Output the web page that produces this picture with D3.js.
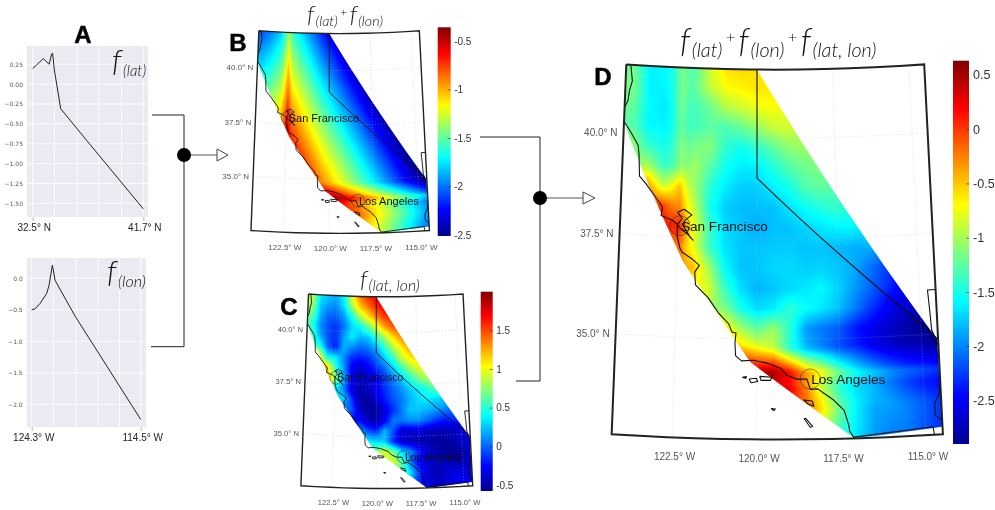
<!DOCTYPE html>
<html><head><meta charset="utf-8">
<script src="https://cdn.jsdelivr.net/npm/d3@7"></script>
<style>
html,body{margin:0;padding:0;background:#fff;width:995px;height:510px;overflow:hidden}
canvas,svg{position:absolute;left:0;top:0}
svg{filter:blur(.3px)}
</style></head><body>
<canvas id="heat" width="995" height="510"></canvas>
<svg id="chart" width="995" height="510"></svg>
<script>
// ---------- data ----------
const fLatKnots = [[32.5,.197],[32.83,.243],[33.39,.323],[33.86,.25],[34.08,.38],[34.16,.39],[34.3,.18],[34.83,-.31],[37.0,-.71],[41.7,-1.57]];
const fLonKnots = [[-124.3,-.497],[-124.03,-.49],[-123.55,-.4],[-122.95,-.24],[-122.74,-.11],[-122.44,.21],[-122.2,-.03],[-122.05,-.08],[-120.4,-.6],[-114.5,-2.24]];
const fLatTicks = [.25,0,-.25,-.5,-.75,-1,-1.25,-1.5];
const fLonTicks = [0,-.5,-1,-1.5,-2];
const latGrid = [32.5,34.3,36.2,38,39.9,41.7];
const lonGrid = [-124.3,-122.35,-120.3,-118.35,-116.4,-114.5];
const gridLons = d3.range(-124.5,-114.4,.5);
const gridLats = [41.75,41.25,40.75,40.25,39.75,39.25,38.75,38.25,37.75,37.25,36.75,36.25,35.75,35.25,34.75,34.25,33.75,33.25,32.75,32.25];
const fLatLon = [
[.9,.85,.35,.25,.2,.4,1.0,1.4,1.6,1.7,1.7,1.7,1.7,1.7,1.7,1.7,1.7,1.7,1.7,1.7,1.7],
[.85,.8,.25,.15,.1,.35,.85,1.2,1.4,1.6,1.7,1.75,1.75,1.75,1.75,1.75,1.75,1.75,1.75,1.75,1.75],
[.75,.65,.2,0,0,.15,.45,.85,1.1,1.35,1.55,1.6,1.6,1.6,1.6,1.6,1.6,1.6,1.6,1.6,1.6],
[.55,.5,.1,-.05,-.15,.05,.3,.4,.65,.95,1.25,1.45,1.5,1.5,1.5,1.5,1.5,1.5,1.5,1.5,1.5],
[.6,.6,.2,-.05,-.15,.15,.35,.2,.25,.5,.8,1.1,1.3,1.4,1.4,1.4,1.4,1.4,1.4,1.4,1.4],
[.5,.5,.5,0,-.2,.2,.1,0,.05,.2,.5,.8,1.05,1.25,1.3,1.3,1.3,1.3,1.3,1.3,1.3],
[1.1,1.1,1.1,.4,.35,.1,-.15,-.2,-.15,0,.25,.5,.85,1.05,1.15,1.15,1.15,1.15,1.15,1.15,1.15],
[1.2,1.2,1.2,1.2,.5,.15,-.3,-.4,-.3,-.15,0,.25,.5,.75,.95,1,1,1,1,1,1],
[1.4,1.4,1.4,1.3,.8,.2,-.25,-.45,-.35,-.3,-.1,.05,.25,.45,.65,.8,.85,.85,.85,.85,.85],
[.8,.8,.8,.8,.4,.1,-.35,-.5,-.45,-.3,-.15,0,.1,.25,.35,.45,.6,.6,.6,.6,.6],
[.3,.3,.3,.3,.3,.3,-.1,-.5,-.55,-.4,-.2,-.05,.05,.2,.3,.35,.3,.25,.25,.25,.25],
[0,0,0,0,0,0,0,-.4,-.55,-.55,-.35,-.15,.05,.25,.25,.2,.15,.1,0,0,0],
[-.25,-.25,-.25,-.25,-.25,-.25,-.25,-.25,-.45,-.5,-.3,.05,.05,.1,.1,0,-.1,-.2,-.15,-.1,-.1],
[.2,.2,.2,.2,.2,.2,.2,.2,-.05,-.15,.2,-.05,-.4,-.4,-.35,-.45,-.45,-.45,-.45,-.4,-.4],
[.35,.35,.35,.35,.35,.35,.35,.35,.35,.3,.25,-.15,-.4,-.45,-.5,-.5,-.55,-.55,-.5,-.4,-.4],
[.75,.75,.75,.75,.75,.75,.75,.75,.75,.75,.95,.7,.3,.1,-.2,-.4,-.5,-.55,-.55,-.5,-.45],
[.9,.9,.9,.9,.9,.9,.9,.9,.9,.9,.9,.95,.6,.05,-.3,-.4,-.4,-.45,-.5,-.5,-.45],
[.6,.6,.6,.6,.6,.6,.6,.6,.6,.6,.6,.6,.6,.3,-.15,-.4,-.5,-.4,-.35,-.35,-.35],
[.2,.2,.2,.2,.2,.2,.2,.2,.2,.2,.2,.2,.2,.1,-.2,-.35,-.45,-.4,-.3,-.3,-.3],
[.2,.2,.2,.2,.2,.2,.2,.2,.2,.2,.2,.2,.2,.1,-.2,-.35,-.45,-.4,-.3,-.3,-.3]];
const domainOutline = [[-124.3,41.7],[-120,41.7],[-114.68,35.05],[-114.53,34.9],[-114.5,32.69],[-117.1,32.5],[-118.27,33.23],[-120.21,34.43],[-120.6,34.9],[-122.31,36.9],[-123.47,38.79],[-124.16,40],[-124.3,40.35],[-124.3,41.7]];
const frameOutline = [[-124.3,41.7],[-114.5,41.7],[-114.5,32.5],[-124.3,32.5],[-124.3,41.7]];
const coast = [[-124.15,41.7],[-124.08,41.3],[-124.16,41.06],[-124.2,40.8],[-124.41,40.44],[-124.28,40.26],[-124.07,40.03],[-123.82,39.72],[-123.78,39.5],[-123.74,38.95],[-123.53,38.77],[-123.07,38.31],[-122.98,38.2],[-123.02,38.0],[-122.68,37.9],[-122.5,37.8],[-122.5,37.5],[-122.4,37.2],[-122.33,37.11],[-122.03,36.96],[-121.79,36.8],[-121.93,36.63],[-121.9,36.31],[-121.5,36.0],[-121.19,35.64],[-120.87,35.37],[-120.76,35.16],[-120.64,35.14],[-120.67,34.9],[-120.65,34.58],[-120.47,34.45],[-120.1,34.47],[-119.7,34.4],[-119.29,34.27],[-119.1,34.1],[-118.8,34.0],[-118.5,34.0],[-118.4,33.74],[-118.18,33.75],[-117.93,33.6],[-117.7,33.46],[-117.4,33.2],[-117.28,32.85],[-117.25,32.68],[-117.12,32.5]];
const nevadaBorder = [[-120,41.7],[-120,39],[-114.63,35]];
const riverNorth = [[-114.5,36.1],[-114.75,36.1],[-114.72,35.7],[-114.68,35.1],[-114.63,35],[-114.57,34.85],[-114.5,34.7]];
const riverSouth = [[-114.5,34.0],[-114.54,33.53],[-114.7,33.28],[-114.7,32.98],[-114.5,32.85]];
const mexicoBorder = [[-117.12,32.53],[-114.78,32.7],[-114.75,32.5]];
const sfBay = [[-122.5,37.8],[-122.35,37.95],[-122.5,38.1],[-122.3,38.18],[-122.05,38.05],[-122.28,37.9],[-122.3,37.75],[-122.1,37.5],[-122,37.42],[-122.15,37.55],[-122.4,37.7],[-122.5,37.8]];
const islands = [
[[-120.44,34.04],[-120.32,34.06],[-120.33,34.02],[-120.44,34.04]],
[[-120.24,34],[-120.02,34.02],[-119.98,33.94],[-120.18,33.91],[-120.24,34]],
[[-119.92,34.07],[-119.55,34.05],[-119.6,33.97],[-119.88,33.97],[-119.92,34.07]],
[[-119.58,33.27],[-119.45,33.26],[-119.5,33.22],[-119.58,33.27]],
[[-118.6,33.48],[-118.35,33.45],[-118.3,33.32],[-118.48,33.38],[-118.6,33.48]],
[[-118.6,33.02],[-118.55,33.02],[-118.35,32.82],[-118.42,32.8],[-118.6,33.02]]];
const cities = [["San Francisco",-122.42,37.77],["Los Angeles",-118.4,34.0]];
const graticuleLats = [40,37.5,35];
const graticuleLons = [-122.5,-120,-117.5,-115];
const mapExtent = {lonMin:-124.3, lonMax:-114.5, latMin:32.5, latMax:41.7};

// ---------- shared projection ----------
const latToY = d3.scaleLinear().domain([40,35]).range([138,339]);
const latToK = d3.scaleLinear().domain([32.5,41.7]).range([33.8,30.4]);
const bow = .22, lonMid = -119.4;
function base(lon,lat){ return [757+(lon+120)*latToK(lat), latToY(lat)-bow*(lon-lonMid)*(lon-lonMid)]; }
function baseInv(x,y){
  let lon=-120, lat=40;
  for(let i=0;i<4;i++){ lat=latToY.invert(y+bow*(lon-lonMid)*(lon-lonMid)); lon=-120+(x-757)/latToK(lat); }
  return [lon,lat];
}
const fLat = d3.scaleLinear().domain(fLatKnots.map(d=>d[0])).range(fLatKnots.map(d=>d[1])).clamp(true);
const fLon = d3.scaleLinear().domain(fLonKnots.map(d=>d[0])).range(fLonKnots.map(d=>d[1])).clamp(true);
const lonIdx = d3.scaleLinear().domain([gridLons[0],gridLons[gridLons.length-1]]).range([0,gridLons.length-1]).clamp(true);
const latIdx = d3.scaleLinear().domain([gridLats[0],gridLats[gridLats.length-1]]).range([0,gridLats.length-1]).clamp(true);
function fInter(lon,lat){
  const u=lonIdx(lon), v=latIdx(lat);
  const i=Math.min(Math.floor(u),gridLons.length-2), j=Math.min(Math.floor(v),gridLats.length-2);
  const a=u-i,b=v-j,g=fLatLon;
  return (g[j][i]*(1-a)+g[j][i+1]*a)*(1-b)+(g[j+1][i]*(1-a)+g[j+1][i+1]*a)*b;
}
const jet = d3.scaleLinear()
  .domain([0,.125,.375,.625,.875,1])
  .range(["#000090","#0000ff","#00ffff","#ffff00","#ff0000","#800000"]);
function densify(pts,n=12){
  const out=[];
  d3.pairs(pts).forEach(([p,q])=>{ const f=d3.interpolateNumberArray(p,q); d3.range(n).forEach(i=>out.push(Array.from(f(i/n)))); });
  out.push(pts[pts.length-1]);
  return out;
}

const panels = [
 {key:"B",field:(lon,lat)=>fLat(lat)+fLon(lon),
  X:[249,430],Y:[30,231.5],scale:.539,frameW:1.4,coastW:.9,
  bar:{x:437.7,w:13,top:27.3,bot:236,vmax:-.36,vmin:-2.51,ticks:[-.5,-1,-1.5,-2,-2.5],font:10,pad:3.5},
  cityFont:11,latLblFont:8,lonLblY:248.5,latDx:-4,letter:[238,51],circle:6.5},
 {key:"C",field:(lon,lat)=>fInter(lon,lat),
  X:[299,473.3],Y:[293.3,486.7],scale:.519,frameW:1.4,coastW:.9,
  bar:{x:480.7,w:12,top:291.7,bot:491,vmax:2.0,vmin:-.58,ticks:[1.5,1,.5,0,-.5],font:10,pad:3.5},
  cityFont:10.3,latLblFont:7.6,lonLblY:503.5,latDx:-4,letter:[289,315],circle:6.5},
 {key:"D",field:(lon,lat)=>fLat(lat)+fLon(lon)+fInter(lon,lat),
  X:[608,944],Y:[63,436],scale:1,frameW:2,coastW:1.1,
  bar:{x:953,w:16,top:60.7,bot:444,vmax:.63,vmin:-2.9,ticks:[.5,0,-.5,-1,-1.5,-2,-2.5],font:12.6,pad:4},
  cityFont:13.6,latLblFont:10,lonLblY:458,latDx:-6,letter:[603,85],circle:10}
];

const svg = d3.select("#chart");
const ctx = document.getElementById("heat").getContext("2d");

panels.forEach(p=>{
  const sx=d3.scaleLinear().domain([608,944]).range(p.X);
  const sy=d3.scaleLinear().domain([63,436]).range(p.Y);
  const proj=d=>{const b=base(d[0],d[1]);return [sx(b[0]),sy(b[1])];};
  const line=d3.line().x(d=>proj(d)[0]).y(d=>proj(d)[1]);
  const color=d3.scaleLinear().domain([p.bar.vmin,p.bar.vmax]).range([0,1]).clamp(true);

  // heat field
  const x0=Math.floor(p.X[0])-5,x1=Math.ceil(p.X[1])+5,y0=Math.floor(p.Y[0])-5,y1=Math.ceil(p.Y[1])+8;
  const off=document.createElement("canvas");off.width=x1-x0;off.height=y1-y0;
  const oc=off.getContext("2d");const img=oc.createImageData(off.width,off.height);
  for(let y=y0;y<y1;y++)for(let x=x0;x<x1;x++){
    const [lon,lat]=baseInv(sx.invert(x+.5),sy.invert(y+.5));
    const c=d3.rgb(jet(color(p.field(lon,lat))));
    const i=((y-y0)*off.width+(x-x0))*4;
    img.data[i]=c.r;img.data[i+1]=c.g;img.data[i+2]=c.b;img.data[i+3]=255;
  }
  oc.putImageData(img,0,0);
  ctx.save();ctx.beginPath();
  d3.line().x(d=>proj(d)[0]).y(d=>proj(d)[1]).context(ctx)(densify(domainOutline));
  ctx.closePath();ctx.clip();ctx.drawImage(off,x0,y0);ctx.restore();

  const g=svg.append("g").attr("class","panel-"+p.key);
  const clipId="clip"+p.key;
  g.append("clipPath").attr("id",clipId).append("path").attr("d",line(densify(frameOutline)));
  const inner=g.append("g").attr("clip-path",`url(#${clipId})`);
  // graticule
  graticuleLats.forEach(la=>inner.append("path").attr("d",line(densify([[mapExtent.lonMin,la],[mapExtent.lonMax,la]],20)))
     .attr("fill","none").attr("stroke","#bbb").attr("stroke-width",.6).attr("stroke-dasharray","1 2").attr("opacity",.7));
  graticuleLons.forEach(lo=>inner.append("path").attr("d",line(densify([[lo,mapExtent.latMin],[lo,mapExtent.latMax]],20)))
     .attr("fill","none").attr("stroke","#bbb").attr("stroke-width",.6).attr("stroke-dasharray","1 2").attr("opacity",.7));
  // geography
  const geo=[coast,nevadaBorder,riverNorth,riverSouth,mexicoBorder,sfBay,...islands];
  inner.selectAll("path.geo").data(geo).join("path").attr("class","geo")
     .attr("d",(d,i)=>line(i===1?densify(d,8):d)).attr("fill","none").attr("stroke","#111").attr("stroke-width",p.coastW).attr("stroke-linejoin","round");
  // frame
  g.append("path").attr("d",line(densify(frameOutline))).attr("fill","none").attr("stroke","#222").attr("stroke-width",p.frameW);
  // lat labels
  graticuleLats.forEach(la=>{const q=proj([mapExtent.lonMin,la]);
    const t=g.append("text").attr("x",q[0]+p.latDx).attr("y",q[1]+p.latLblFont*.35).attr("text-anchor","end")
      .attr("font-family","Liberation Sans").attr("font-size",p.latLblFont).attr("fill","#555");
    t.text(la.toFixed(1)+"° N");});
  graticuleLons.forEach((lo,i)=>{const q=proj([lo,mapExtent.latMin]);
    g.append("text").attr("x",q[0]+p.scale*2).attr("y",p.lonLblY-(i===0||i===3?1.5:0)*p.scale+p.latLblFont*.35).attr("text-anchor","middle")
      .attr("font-family","Liberation Sans").attr("font-size",p.latLblFont).attr("fill","#555").text(Math.abs(lo).toFixed(1)+"° W");});
  // cities
  cities.forEach(c=>{const q=proj([c[1],c[2]]);
    g.append("circle").attr("cx",q[0]).attr("cy",q[1]).attr("r",p.circle).attr("fill","none").attr("stroke","#222").attr("stroke-width",.5);
    g.append("text").attr("x",q[0]+1).attr("y",q[1]+p.cityFont*.36).attr("font-family","Liberation Sans")
      .attr("font-size",p.cityFont).attr("fill","#111").text(c[0]);});
  // colour bar
  const b=p.bar, yb=d3.scaleLinear().domain([b.vmin,b.vmax]).range([b.bot,b.top]);
  const grad=g.append("defs").append("linearGradient").attr("id","grad"+p.key).attr("x1",0).attr("x2",0).attr("y1",1).attr("y2",0);
  jet.domain().forEach(s=>grad.append("stop").attr("offset",s).attr("stop-color",jet(s)));
  g.append("rect").attr("x",b.x).attr("y",b.top).attr("width",b.w).attr("height",b.bot-b.top).attr("fill",`url(#grad${p.key})`);
  const ax=g.append("g").attr("transform",`translate(${b.x+b.w},0)`)
    .call(d3.axisRight(yb).tickValues(b.ticks).tickSizeInner(-3).tickSizeOuter(0).tickPadding(b.pad).tickFormat(d=>d3.format("")(d).replace("−","-")));
  ax.select(".domain").remove();
  ax.selectAll("line").attr("stroke","#333").attr("stroke-width",.6);
  ax.selectAll("text").attr("font-family","Liberation Sans").attr("font-size",b.font).attr("fill","#333");
  // letter
  svg.append("text").attr("x",p.letter[0]).attr("y",p.letter[1]).attr("text-anchor","middle")
    .attr("font-family","Liberation Sans").attr("font-weight",700).attr("font-size",24).attr("stroke","#000").attr("stroke-width",.5).attr("fill","#000").text(p.key);
});

// ---------- panel A ----------
function linePlot(cfg){
  const g=svg.append("g");
  const x=d3.scaleLinear().domain(cfg.xd).range(cfg.xr), y=d3.scaleLinear().domain(cfg.yd).range(cfg.yr);
  g.append("rect").attr("x",cfg.box[0]).attr("y",cfg.box[1]).attr("width",cfg.box[2]-cfg.box[0]).attr("height",cfg.box[3]-cfg.box[1]).attr("fill","#eaeaf2");
  cfg.grid.forEach(v=>g.append("line").attr("x1",x(v)).attr("x2",x(v)).attr("y1",cfg.box[1]).attr("y2",cfg.box[3]).attr("stroke","#fff").attr("stroke-width",.8));
  cfg.yt.forEach(v=>g.append("line").attr("y1",y(v)).attr("y2",y(v)).attr("x1",cfg.box[0]).attr("x2",cfg.box[2]).attr("stroke","#fff").attr("stroke-width",.8));
  const ay=g.append("g").attr("transform",`translate(${cfg.box[0]},0)`).call(d3.axisLeft(y).tickValues(cfg.yt).tickSize(0).tickPadding(4).tickFormat(d3.format(cfg.fmt)));
  ay.select(".domain").remove();
  ay.selectAll("text").attr("font-family","DejaVu Sans").attr("font-size",6).attr("fill","#555");
  const ax=g.append("g").attr("transform",`translate(0,${cfg.box[3]})`).call(d3.axisBottom(x).tickValues(cfg.xd).tickSize(4).tickPadding(2).tickFormat(cfg.xf));
  ax.select(".domain").remove();
  ax.selectAll("line").attr("stroke","#888").attr("stroke-width",.6);
  ax.selectAll("text").attr("font-family","Liberation Sans").attr("font-size",10).attr("fill","#222").attr("dx",cfg.dx).attr("dy",".8em");
  g.append("path").attr("d",d3.line().x(d=>x(d[0])).y(d=>y(d[1]))(cfg.data)).attr("fill","none").attr("stroke","#222").attr("stroke-width",1);
}
linePlot({xd:[32.5,41.7],xr:[32.7,143.3],yd:[.25,-1.5],yr:[64.3,203.3],box:[27,46,148,217],grid:latGrid,yt:fLatTicks,fmt:".2f",
  xf:d=>d.toFixed(1)+"° N",data:fLatKnots,dx:1});
linePlot({xd:[-124.3,-114.5],xr:[31.7,140.7],yd:[0,-2],yr:[278.3,404.3],box:[26.7,258,146,427],grid:lonGrid,yt:fLonTicks,fmt:".1f",
  xf:d=>Math.abs(d).toFixed(1)+"° W",data:fLonKnots,dx:1.5});

// ---------- titles ----------
function title(x,y,size,sub,parts){
  const t=svg.append("text").attr("x",x).attr("y",y).attr("font-family","Lato").attr("font-style","italic").attr("font-weight",300).attr("fill","#111");
  parts.forEach(pt=>{
    if(pt==="+"){ t.append("tspan").attr("font-size",size*.5).attr("dy",-size*.28).attr("dx",size*.1).attr("font-style","normal").text("+");
      t.append("tspan").attr("font-size",size).attr("dy",size*.28).attr("dx",size*.1).text("\u200b"); }
    else { t.append("tspan").attr("font-size",size).text("f");
      t.append("tspan").attr("font-size",size*sub).attr("dy",size*.14).attr("dx",size*.05).text(pt);
      t.append("tspan").attr("font-size",size).attr("dy",-size*.14).text("\u200b"); }
  });
}
title(680,52,33,.6,["(lat)","+","(lon)","+","(lat, lon)"]);
title(307,23,24,.6,["(lat)","+","(lon)"]);
title(360,288,24,.66,["(lat, lon)"]);
title(112,72,31,.48,["(lat)"]);
title(107,283,31,.52,["(lon)"]);
svg.append("text").attr("x",83).attr("y",43).attr("text-anchor","middle").attr("font-family","Liberation Sans").attr("font-weight",700).attr("font-size",24).attr("stroke","#000").attr("stroke-width",.5).text("A");

// ---------- connectors ----------
const conn=svg.append("g").attr("fill","none").attr("stroke","#222").attr("stroke-width",1);
function bracket(x1,y1,xm,y2,x2,dy,ax,tip){
  conn.append("path").attr("d",d3.line()([[x1,y1],[xm,y1],[xm,y2],[x2,y2]]));
  conn.append("path").attr("d",d3.line()([[xm,dy],[ax,dy]])).attr("stroke","#555");
  conn.append("path").attr("d",d3.line()([[ax,dy-6],[tip,dy],[ax,dy+6],[ax,dy-6]])).attr("fill","#fff").attr("stroke","#444");
  svg.append("circle").attr("cx",xm).attr("cy",dy).attr("r",7).attr("fill","#000");
}
bracket(152,115,184,346.7,151,155,217,228);
bracket(480,137,540,381,516,198,583,595);
</script>
</body></html>
